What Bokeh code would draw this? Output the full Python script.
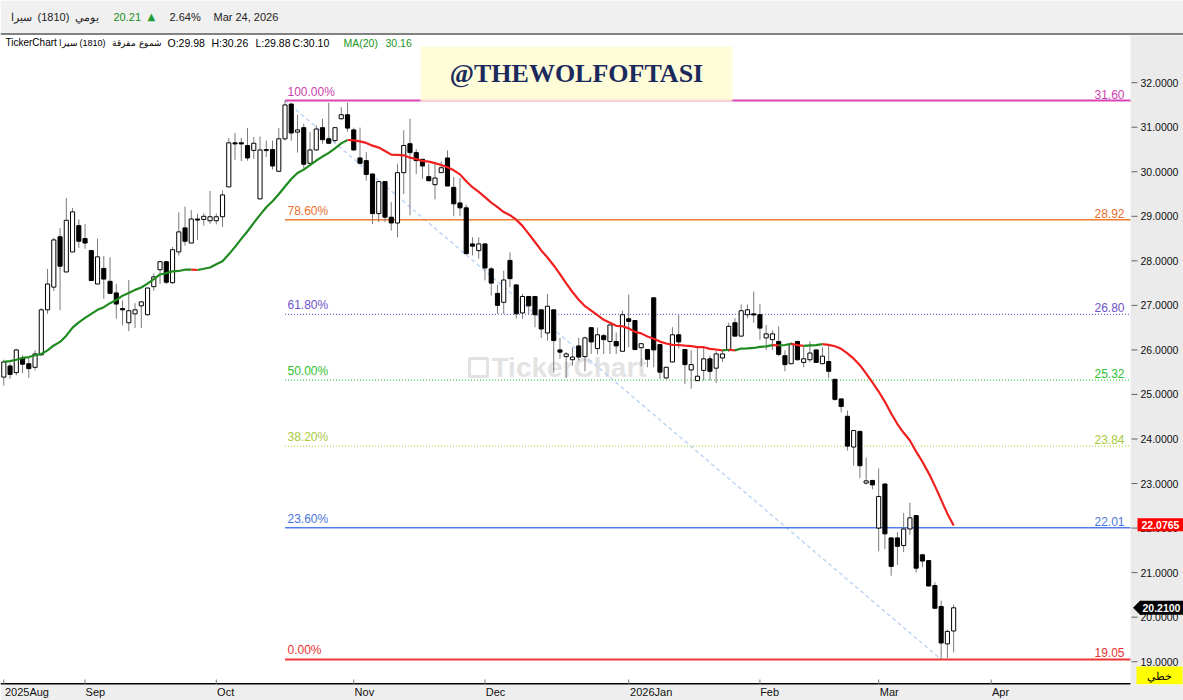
import numpy as np
from bokeh.plotting import figure
from bokeh.models import Range1d, FixedTicker, Label, BoxAnnotation
from bokeh.core.properties import value
from bokeh.embed import file_html
from bokeh.resources import INLINE

# ---------------- data ----------------
opens = [25.39, 25.64, 25.49, 25.82, 25.69, 25.61, 25.89, 26.90, 27.41, 28.54,
         27.75, 28.20, 28.79, 28.50, 28.23, 27.48, 27.83, 27.54, 27.28, 26.93,
         26.61, 26.81, 26.99, 26.79, 27.42, 27.80, 27.98, 27.51, 28.20, 28.74,
         28.40, 28.94, 28.93, 28.90, 28.90, 28.99, 29.66, 30.65, 30.65, 30.59,
         30.48, 29.39, 30.50, 30.50, 30.01, 30.74, 31.52, 30.89, 30.99, 30.19,
         30.49, 30.99, 30.74, 30.70, 31.19, 31.28, 30.94, 30.31, 30.25, 29.95,
         29.06, 29.78, 28.98, 28.85, 29.98, 30.63, 30.43, 30.28, 29.89, 29.71,
         29.98, 30.31, 29.65, 29.30, 29.19, 28.38, 28.23, 28.38, 27.82, 27.27,
         27.07, 28.01, 27.46, 26.83, 27.20, 27.20, 26.90, 26.38, 26.90, 26.00,
         25.85, 25.78, 26.09, 25.85, 26.50, 26.03, 26.32, 26.19, 26.19, 25.97,
         26.70, 26.66, 26.05, 26.01, 27.17, 26.12, 25.37, 25.73, 26.34, 26.01,
         25.55, 25.31, 25.54, 25.80, 25.59, 25.82, 26.00, 26.61, 26.31, 26.79,
         26.81, 26.79, 26.27, 26.23, 26.19, 25.87, 25.69, 26.19, 25.72, 25.78,
         26.00, 25.69, 25.74, 25.34, 24.90, 24.51, 23.82, 24.17, 23.01, 23.07,
         22.00, 22.99, 21.78, 21.78, 21.61, 21.98, 22.28, 21.40, 21.27, 20.71,
         20.24, 19.40, 19.69]
highs = [25.78, 25.70, 26.02, 25.88, 25.82, 25.99, 26.94, 27.82, 28.52, 28.74,
         29.41, 29.19, 28.93, 28.83, 28.25, 28.50, 28.11, 28.08, 27.48, 27.11,
         27.57, 27.05, 27.08, 27.40, 27.72, 27.98, 27.99, 28.31, 29.09, 29.22,
         29.14, 29.06, 29.07, 29.57, 29.06, 29.58, 30.76, 30.87, 30.76, 30.98,
         30.78, 30.79, 30.70, 30.70, 30.98, 31.60, 31.55, 31.28, 31.08, 30.89,
         31.04, 31.19, 31.55, 30.99, 31.45, 31.55, 30.99, 30.99, 30.44, 29.96,
         29.79, 29.79, 29.32, 30.18, 30.93, 31.19, 30.51, 30.28, 30.18, 30.18,
         30.23, 30.48, 29.88, 29.86, 29.26, 28.53, 28.53, 28.40, 27.86, 27.46,
         27.78, 28.19, 27.47, 27.26, 27.21, 27.21, 26.91, 27.26, 26.91, 26.27,
         25.95, 26.06, 26.27, 26.30, 26.51, 26.50, 26.36, 26.57, 26.39, 26.88,
         27.24, 26.67, 26.15, 26.02, 27.18, 26.13, 25.62, 26.51, 26.79, 26.02,
         25.99, 26.09, 26.06, 25.87, 25.99, 26.00, 26.61, 26.71, 27.02, 27.02,
         27.31, 27.03, 26.56, 26.44, 26.53, 25.99, 26.17, 26.20, 26.08, 26.19,
         26.01, 26.06, 26.11, 25.35, 24.91, 24.64, 24.20, 24.19, 23.58, 23.08,
         23.34, 23.00, 21.79, 21.91, 22.34, 22.57, 22.29, 21.42, 21.28, 20.78,
         20.37, 19.72, 20.28]
lows = [25.20, 25.35, 25.43, 25.48, 25.37, 25.54, 25.87, 26.81, 27.32, 26.89,
        27.75, 28.20, 28.29, 28.27, 27.55, 27.48, 27.15, 27.27, 26.70, 26.55,
        26.42, 26.49, 26.49, 26.77, 27.33, 27.48, 27.48, 27.48, 28.12, 28.34,
        28.40, 28.47, 28.79, 28.83, 28.82, 28.76, 29.66, 30.27, 30.24, 30.25,
        30.29, 29.39, 30.33, 30.05, 30.01, 30.70, 30.70, 30.43, 30.07, 30.17,
        30.47, 30.63, 30.62, 30.66, 31.17, 30.90, 30.47, 30.17, 29.80, 28.83,
        28.87, 28.87, 28.68, 28.53, 29.50, 29.02, 29.95, 29.84, 29.78, 29.38,
        29.98, 29.68, 29.00, 29.00, 28.16, 28.12, 28.05, 27.56, 27.22, 26.81,
        26.81, 27.41, 26.70, 26.70, 26.81, 26.51, 26.27, 26.21, 25.49, 25.80,
        25.37, 25.65, 25.76, 25.52, 25.91, 25.90, 25.91, 25.91, 25.91, 25.97,
        26.06, 25.99, 25.63, 25.61, 25.61, 25.35, 25.35, 25.72, 26.03, 25.23,
        25.13, 25.31, 25.31, 25.31, 25.26, 25.73, 25.95, 26.30, 26.30, 26.71,
        26.61, 26.23, 26.00, 26.00, 25.86, 25.52, 25.68, 25.76, 25.61, 25.72,
        25.71, 25.68, 25.37, 24.86, 24.60, 23.74, 23.40, 23.12, 22.98, 22.87,
        21.48, 21.53, 20.93, 21.17, 21.46, 21.85, 21.00, 21.12, 20.69, 20.18,
        19.05, 19.08, 19.21]
closes = [25.73, 25.45, 26.00, 25.68, 25.58, 25.91, 26.90, 27.48, 28.47, 27.88,
          28.91, 29.10, 28.44, 28.40, 27.56, 28.09, 27.59, 27.27, 27.03, 26.90,
          26.88, 26.90, 27.08, 27.39, 27.64, 27.98, 27.52, 28.25, 28.65, 28.44,
          28.94, 28.93, 29.00, 28.99, 28.99, 29.48, 30.65, 30.63, 30.63, 30.31,
          30.64, 30.49, 30.50, 30.13, 30.74, 31.50, 30.87, 30.94, 30.17, 30.49,
          30.96, 30.72, 30.64, 30.99, 31.28, 30.98, 30.49, 30.19, 29.94, 29.06,
          29.78, 28.98, 28.85, 29.98, 30.59, 30.43, 30.25, 30.13, 29.80, 29.86,
          30.09, 29.68, 29.28, 29.19, 28.16, 28.33, 28.38, 27.84, 27.50, 27.00,
          27.57, 27.60, 26.81, 27.20, 26.99, 26.79, 26.47, 26.98, 26.21, 25.95,
          25.91, 25.84, 25.84, 26.27, 26.18, 26.34, 26.23, 26.56, 26.09, 26.79,
          26.64, 26.01, 26.14, 25.79, 26.00, 25.50, 25.61, 26.34, 26.18, 25.67,
          25.67, 25.41, 25.80, 25.52, 25.91, 25.91, 26.53, 26.31, 26.88, 26.90,
          26.80, 26.49, 26.36, 26.36, 25.90, 25.67, 26.14, 25.78, 25.80, 25.93,
          25.72, 25.86, 25.52, 24.89, 24.73, 23.84, 24.19, 23.40, 23.06, 22.97,
          22.71, 21.87, 21.14, 21.59, 21.98, 22.23, 21.10, 21.26, 20.70, 20.20,
          19.42, 19.68, 20.21]
# MA(20) values for the first candles (earlier history not shown)
ma_head = [25.73, 25.75, 25.78, 25.82, 25.84, 25.88, 25.91, 25.99, 26.10, 26.18,
           26.32, 26.50, 26.62, 26.72, 26.81, 26.90, 26.96, 27.05, 27.12]
ma_period = 20
ma_last_label = 22.0765
last_close_label = 20.21

month_ticks = [0, 13, 34, 56, 77, 100, 121, 140, 158]
month_labels = ["2025Aug", "Sep", "Oct", "Nov", "Dec", "2026Jan", "Feb", "Mar", "Apr"]

fib_pcts = ["100.00%", "78.60%", "61.80%", "50.00%", "38.20%", "23.60%", "0.00%"]
fib_levels = [31.60, 28.92, 26.80, 25.32, 23.84, 22.01, 19.05]
fib_start = 45      # candle index of the swing high
fib_end_low = 150   # candle index of the swing low

price_ticks = [19, 20, 21, 22, 23, 24, 25, 26, 27, 28, 29, 30, 31, 32]

header_texts = ["سيرا", "(1810)", "يومي", "20.21", "▲", "2.64%", "Mar 24, 2026"]
legend_texts = ["TickerChart", "سيرا", "(1810)", "شموع مفرقة", "O:29.98", "H:30.26",
                "L:29.88", "C:30.10", "MA(20)", "30.16"]
scale_mode_text = "خطي"

# ---------------- derived ----------------
n = len(closes)
idx = list(range(n))
ma = list(ma_head) + [float(np.mean(closes[i - ma_period + 1:i + 1])) for i in range(len(ma_head), n)]

FONT = "Liberation Sans"
W, FH = 1183, 684                 # frame covers the whole page width; bottom axis below
X0, X1 = -0.53, 180.3             # chart pane (px 0 .. 1130)
KX = (X1 - X0) / 1130.0           # data units per px
XE = X0 + W * KX                  # right edge of page (px 1183)
KY = 44.54                        # px per price unit
YT = 31.60 + 100 / KY             # price at px y = 0
Y0 = YT - FH / KY                 # price at frame bottom

def px2x(px):
    return X0 + px * KX

def py2y(py):
    return YT - py / KY

PANE_TOP = py2y(35)

p = figure(frame_width=W, frame_height=FH, x_range=Range1d(X0, XE), y_range=Range1d(Y0, YT),
           output_backend="svg", toolbar_location=None, y_axis_location=None,
           min_border_left=0, min_border_right=0, min_border_top=0, min_border_bottom=16,
           border_fill_color="#eeeeee", background_fill_color="white")
p.outline_line_color = None
p.grid.visible = False

# ---- bottom axis (Bokeh axis; labels left-aligned on month starts) ----
half_w = {"2025Aug": 3.7, "Sep": 1.65, "Oct": 1.5, "Nov": 1.7, "Dec": 1.7,
          "2026Jan": 3.6, "Feb": 1.55, "Mar": 1.7, "Apr": 1.5}
lab_pos = [float(t + half_w[l]) for t, l in zip(month_ticks, month_labels)]
p.xaxis.ticker = FixedTicker(ticks=lab_pos)
p.xaxis.major_label_overrides = {lp: l for lp, l in zip(lab_pos, month_labels)}
p.xaxis.major_tick_out = 0
p.xaxis.major_tick_in = 0
p.xaxis.minor_tick_line_color = None
p.xaxis.axis_line_color = None
p.xaxis.major_label_standoff = 1
p.xaxis.major_label_text_font = FONT
p.xaxis.major_label_text_font_size = "11px"
p.xaxis.major_label_text_color = "#111111"

# ---- header band and right price band ----
p.quad(left=[X0], right=[XE], top=[YT], bottom=[py2y(34)], fill_color="#f0f0f0", line_color=None)
p.segment(x0=[X0], y0=[py2y(33.5)], x1=[XE], y1=[py2y(33.5)], line_color="#111111", line_width=1)
p.quad(left=[X1], right=[XE], top=[PANE_TOP], bottom=[Y0], fill_color="#ebebeb", line_color=None)

hy = py2y(16)
p.text(x=[px2x(31), px2x(98)], y=[hy, hy], text=[header_texts[0], header_texts[2]],
       text_color="#222222", text_font=value(FONT), text_font_size="11px",
       text_baseline="middle", text_align="right")
p.text(x=[px2x(37), px2x(113), px2x(169), px2x(213)], y=[hy] * 4,
       text=[header_texts[1], header_texts[3], header_texts[5], header_texts[6]],
       text_color=["#222222", "#1a8f1a", "#222222", "#222222"], text_font=value(FONT),
       text_font_size="11px", text_baseline="middle", text_align="left")
p.text(x=[px2x(147)], y=[hy], text=[header_texts[4]], text_color="#1f9d3a",
       text_font=value("DejaVu Sans"), text_font_size="10px", text_baseline="middle",
       text_align="left")

# bottom axis line of the pane and month tick marks
p.segment(x0=[X0], y0=[Y0], x1=[X1], y1=[Y0], line_color="black", line_width=3)
p.segment(x0=month_ticks, y0=[Y0] * len(month_ticks), x1=month_ticks,
          y1=[Y0 + 5 / KY] * len(month_ticks), line_color="#777777", line_width=1)

# ---- TickerChart faint watermark ----
p.rect(x=[px2x(478)], y=[py2y(367)], width=18, height=18, width_units="screen",
       height_units="screen", fill_color=None, line_color="#e2e2e2", line_width=3)
p.text(x=[px2x(491)], y=[py2y(367)], text=["TickerChart"], text_font=value("Liberation Sans"),
       text_font_size="28px", text_font_style="bold", text_color="#e3e3e3",
       text_baseline="middle", text_align="left")

# ---- fib tool ----
p.line([fib_start, fib_end_low], [fib_levels[0], fib_levels[-1]], line_color="#b8d0f2",
       line_width=1.3, line_dash="4 3")
fib_line_colors = ["#d944b8", "#f07b32", "#8466d4", "#45d045", "#b8d64a", "#4f7fe6", "#f03535"]
fib_text_colors = ["#cc3fae", "#e9702c", "#6e52c8", "#2ec22e", "#a8c83e", "#4876e0", "#e83232"]
fib_dash = ["solid", "solid", "1 2", "1 2", "1 2", "solid", "solid"]
fib_width = [2, 1.5, 1.3, 1.3, 1.3, 1.5, 2]
for lvl, lc, dsh, w in zip(fib_levels, fib_line_colors, fib_dash, fib_width):
    p.line([fib_start, X1], [lvl, lvl], line_color=lc, line_width=w, line_dash=dsh)

# ---- candles ----
up = [c >= o for o, c in zip(opens, closes)]
tops = [max(o, c) for o, c in zip(opens, closes)]
bots = [min(o, c) for o, c in zip(opens, closes)]
bots = [b if t - b > 0.025 else t - 0.025 for t, b in zip(tops, bots)]
fills = ["white" if u else "black" for u in up]
p.segment(x0=idx, y0=lows, x1=idx, y1=highs, line_color="#7a7a7a", line_width=1)
p.vbar(x=idx, width=0.66, top=tops, bottom=bots, fill_color=fills, line_color="black",
       line_width=1)

# ---- MA(20) coloured by slope ----
GREEN, RED = "#1f8a1f", "#f02020"
xs_runs, ys_runs, cols = [], [], []
cur = None
for i in range(1, n):
    col = GREEN if ma[i] >= ma[i - 1] else RED
    if col != cur:
        xs_runs.append([i - 1, i]); ys_runs.append([ma[i - 1], ma[i]]); cols.append(col); cur = col
    else:
        xs_runs[-1].append(i); ys_runs[-1].append(ma[i])
p.multi_line(xs=xs_runs, ys=ys_runs, line_color=cols, line_width=2.2)

# ---- fib labels ----
off = 2 / KY
p.text(x=[px2x(287)] * len(fib_levels), y=[l + off for l in fib_levels], text=fib_pcts,
       text_color=fib_text_colors, text_font=value(FONT), text_font_size="12px",
       text_baseline="bottom", text_align="left")
p.text(x=[px2x(1124)] * len(fib_levels), y=[l + off for l in fib_levels],
       text=["%.2f" % l for l in fib_levels], text_color=fib_text_colors,
       text_font=value(FONT), text_font_size="12px", text_baseline="bottom", text_align="right")

# ---- legend line at top-left of the pane ----
ly = py2y(42)
p.text(x=[px2x(5)], y=[ly], text=[legend_texts[0]], text_color="#000000",
       text_font=value(FONT), text_font_size="10px", text_baseline="middle", text_align="left")
p.text(x=[px2x(79)], y=[ly], text=[legend_texts[2]], text_color="#000000",
       text_font=value(FONT), text_font_size="9px", text_baseline="middle", text_align="left")
p.text(x=[px2x(77), px2x(161)], y=[ly, ly], text=[legend_texts[1], legend_texts[3]],
       text_color="#000000", text_font=value(FONT), text_font_size="9px",
       text_baseline="middle", text_align="right")
val_items = [(4, 167), (5, 211), (6, 255), (7, 292), (8, 343), (9, 385)]
p.text(x=[px2x(px) for _, px in val_items], y=[ly] * len(val_items),
       text=[legend_texts[k] for k, _ in val_items],
       text_color=["#1a961a" if k >= 8 else "#000000" for k, _ in val_items],
       text_font=value(FONT), text_font_size="10.5px", text_baseline="middle", text_align="left")

# ---- right price scale (ticks + labels drawn through the y scale) ----
p.segment(x0=[px2x(1131)] * len(price_ticks), y0=price_ticks, x1=[px2x(1137)] * len(price_ticks),
          y1=price_ticks, line_color="#666666", line_width=1)
p.text(x=[px2x(1140)] * len(price_ticks), y=price_ticks, text=["%.4f" % t for t in price_ticks],
       text_color="#111111", text_font=value(FONT), text_font_size="10.5px",
       text_baseline="middle", text_align="left")

# current MA tag
hh = 6.5 / KY
p.quad(left=[px2x(1137)], right=[XE], top=[ma_last_label + hh], bottom=[ma_last_label - hh],
       fill_color="#ff0000", line_color=None)
p.text(x=[px2x(1141)], y=[ma_last_label], text=["%.4f" % ma_last_label], text_color="white",
       text_font=value(FONT), text_font_size="10.5px", text_font_style="bold",
       text_baseline="middle", text_align="left")
# last close tag with arrow
hh2 = 7 / KY
p.patch(x=[px2x(1133), px2x(1140), px2x(1140)],
        y=[last_close_label, last_close_label + hh2, last_close_label - hh2],
        fill_color="black", line_color="black")
p.quad(left=[px2x(1140)], right=[XE], top=[last_close_label + hh2],
       bottom=[last_close_label - hh2], fill_color="black", line_color=None)
p.text(x=[px2x(1142)], y=[last_close_label], text=["%.4f" % last_close_label],
       text_color="white", text_font=value(FONT), text_font_size="10.5px",
       text_font_style="bold", text_baseline="middle", text_align="left")
# scale mode box
p.quad(left=[px2x(1136)], right=[px2x(1182)], top=[py2y(666)], bottom=[py2y(684)],
       fill_color="#ffff00", line_color=None)
p.text(x=[px2x(1159)], y=[py2y(675)], text=[scale_mode_text], text_color="black",
       text_font=value(FONT), text_font_size="11px", text_baseline="middle",
       text_align="center")

# ---- watermark box ----
p.add_layout(BoxAnnotation(left=px2x(420), right=px2x(732), top=py2y(46), bottom=31.575,
                           fill_color="#fffbd2", fill_alpha=0.82, line_color=None))
p.add_layout(Label(x=px2x(576), y=py2y(73), text="@THEWOLFOFTASI", text_font="Liberation Serif",
                   text_font_size="26px", text_font_style="bold", text_color="#1b2a5c",
                   text_align="center", text_baseline="middle"))

open("out.html", "w").write(file_html(p, INLINE))
